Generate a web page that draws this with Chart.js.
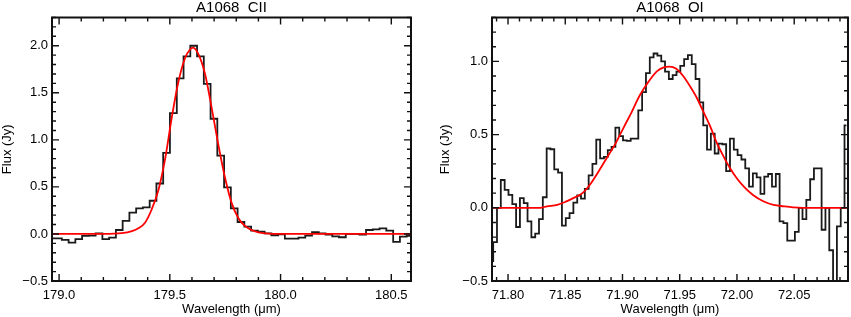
<!DOCTYPE html>
<html>
<head>
<meta charset="utf-8">
<title>A1068 CII / OI</title>
<script src="https://cdn.jsdelivr.net/npm/chart.js@4.4.1/dist/chart.umd.min.js"></script>
<style>
  html, body { margin: 0; padding: 0; background: #fff; }
  #wrap { position: relative; width: 851px; height: 317px; overflow: hidden; }
  canvas { position: absolute; top: 0; }
</style>
</head>
<body>
<div id="wrap">
  <canvas id="ciiChart" width="438" height="317" style="left:0px"></canvas>
  <canvas id="oiChart" width="413" height="317" style="left:438px"></canvas>
</div>
<script>
// ---- CII panel: binned spectrum (bin centres) ----
const ciiWave = [
  178.966, 178.997, 179.028, 179.058, 179.089, 179.119, 179.150, 179.180, 179.211, 179.241,
  179.272, 179.302, 179.333, 179.363, 179.394, 179.424, 179.455, 179.485, 179.516, 179.547,
  179.577, 179.608, 179.638, 179.669, 179.699, 179.730, 179.760, 179.791, 179.821, 179.852,
  179.882, 179.913, 179.943, 179.974, 180.004, 180.035, 180.066, 180.096, 180.127, 180.157,
  180.188, 180.218, 180.249, 180.279, 180.310, 180.340, 180.371, 180.401, 180.432, 180.462,
  180.493, 180.524, 180.554, 180.585
];
const ciiFlux = [
  -0.046, -0.046, -0.063, -0.092, -0.056, -0.021, -0.018, 0.007, -0.056, -0.039,
  0.042, 0.138, 0.226, 0.272, 0.283, 0.353, 0.536, 0.861, 1.284, 1.654,
  1.887, 2.000, 1.887, 1.594, 1.224, 0.832, 0.494, 0.272, 0.127, 0.078,
  0.035, 0.025, 0.007, -0.014, -0.004, -0.049, -0.049, -0.039, -0.018, 0.018,
  0.007, -0.007, -0.025, -0.035, 0.000, 0.000, -0.007, 0.042, 0.049, 0.060,
  0.035, -0.085, -0.028, -0.020
];
// CII fitted line (red)
const ciiFitWave = [
  178.968, 179.200, 179.283, 179.329, 179.358, 179.388, 179.418, 179.449, 179.479, 179.509,
  179.539, 179.569, 179.591, 179.605, 179.629, 179.659, 179.689, 179.719, 179.749, 179.779,
  179.809, 179.839, 179.870, 179.900, 179.930, 180.000, 180.589
];
const ciiFitFlux = [
  0.000, 0.000, 0.008, 0.030, 0.060, 0.120, 0.260, 0.470, 0.800, 1.240,
  1.620, 1.870, 1.960, 1.980, 1.910, 1.700, 1.340, 0.950, 0.600, 0.330,
  0.170, 0.085, 0.040, 0.018, 0.007, 0.000, 0.000
];
const ciiXTicks = [179.0, 179.5, 180.0, 180.5];
const ciiYTicks = [-0.5, 0.0, 0.5, 1.0, 1.5, 2.0];

// ---- OI panel ----
const oiWave = [
  71.7854, 71.7887, 71.7920, 71.7954, 71.7987, 71.8021, 71.8054, 71.8087, 71.8121, 71.8154,
  71.8187, 71.8221, 71.8254, 71.8287, 71.8321, 71.8354, 71.8387, 71.8421, 71.8454, 71.8488,
  71.8521, 71.8554, 71.8588, 71.8621, 71.8654, 71.8688, 71.8721, 71.8754, 71.8788, 71.8821,
  71.8855, 71.8888, 71.8921, 71.8955, 71.8988, 71.9021, 71.9055, 71.9088, 71.9121, 71.9155,
  71.9188, 71.9222, 71.9255, 71.9288, 71.9322, 71.9355, 71.9388, 71.9422, 71.9455, 71.9488,
  71.9522, 71.9555, 71.9588, 71.9622, 71.9655, 71.9689, 71.9722, 71.9755, 71.9789, 71.9822,
  71.9855, 71.9889, 71.9922, 71.9956, 71.9989, 72.0022, 72.0056, 72.0089, 72.0122, 72.0156,
  72.0189, 72.0222, 72.0256, 72.0289, 72.0323, 72.0356, 72.0389, 72.0423, 72.0456, 72.0489,
  72.0523, 72.0556, 72.0589, 72.0623, 72.0656, 72.0689, 72.0723, 72.0756, 72.0790, 72.0823,
  72.0856, 72.0890, 72.0923, 72.0956
];
const oiFlux = [
  -0.364, -0.235, 0.000, 0.190, 0.122, 0.088, 0.025, -0.131, 0.066, 0.032,
  -0.093, -0.201, -0.176, -0.077, 0.072, 0.405, 0.400, 0.262, 0.240, -0.122,
  -0.070, -0.036, 0.036, 0.084, 0.063, 0.129, 0.222, 0.300, 0.466, 0.337,
  0.348, 0.394, 0.416, 0.548, 0.490, 0.460, 0.457, 0.473, 0.473, 0.665,
  0.790, 0.920, 1.027, 1.054, 1.040, 1.000, 0.930, 0.880, 0.907, 0.930,
  0.970, 1.016, 1.043, 0.982, 0.880, 0.720, 0.563, 0.398, 0.507, 0.371,
  0.439, 0.434, 0.251, 0.473, 0.398, 0.360, 0.330, 0.269, 0.145, 0.235,
  0.208, 0.095, 0.213, 0.231, 0.145, 0.231, -0.093, -0.104, -0.224, -0.224,
  -0.165, 0.000, -0.077, 0.054, 0.195, 0.270, 0.270, -0.150, 0.000, -0.290,
  -0.600, -0.127, 0.000, 0.563
];
const oiFitWave = [
  71.786, 71.828, 71.834, 71.843, 71.850, 71.857, 71.865, 71.872, 71.879, 71.886,
  71.894, 71.901, 71.908, 71.915, 71.923, 71.930, 71.936, 71.941, 71.947, 71.953,
  71.959, 71.965, 71.971, 71.977, 71.982, 71.988, 71.994, 72.000, 72.006, 72.014,
  72.023, 72.032, 72.041, 72.049, 72.058, 72.097
];
const oiFitFlux = [
  0.000, 0.000, 0.010, 0.020, 0.040, 0.066, 0.100, 0.163, 0.247, 0.337,
  0.440, 0.548, 0.654, 0.767, 0.864, 0.932, 0.959, 0.965, 0.950, 0.900,
  0.830, 0.750, 0.650, 0.550, 0.450, 0.355, 0.270, 0.200, 0.145, 0.088,
  0.045, 0.020, 0.010, 0.003, 0.000, 0.000
];
const oiXTicks = [71.80, 71.85, 71.90, 71.95, 72.00, 72.05];
const oiYTicks = [-0.5, 0.0, 0.5, 1.0];

Chart.defaults.font.family = '"Liberation Sans", Arial, Helvetica, sans-serif';
Chart.defaults.color = '#000';

function eachStep(min, max, step, fn) {
  for (let k = Math.ceil(min / step - 1e-6); k * step <= max + 1e-9; k++) fn(k * step);
}

// IDL style box: ticks pointing inward on all four sides, minor + major
const idlBox = {
  id: 'idlBox',
  afterDatasetsDraw(chart, args, opts) {
    const { ctx, chartArea: a } = chart;
    const x = chart.scales.x, y = chart.scales.y;
    ctx.save();
    ctx.strokeStyle = '#111';
    ctx.lineWidth = 1.4;
    ctx.beginPath();
    const xMark = (v, len) => {
      const px = x.getPixelForValue(v);
      ctx.moveTo(px, a.bottom); ctx.lineTo(px, a.bottom - len);
      ctx.moveTo(px, a.top); ctx.lineTo(px, a.top + len);
    };
    const yMark = (v, len) => {
      const py = y.getPixelForValue(v);
      ctx.moveTo(a.left, py); ctx.lineTo(a.left + len, py);
      ctx.moveTo(a.right, py); ctx.lineTo(a.right - len, py);
    };
    eachStep(x.min, x.max, opts.xMinor, v => xMark(v, 4));
    x.ticks.forEach(t => xMark(t.value, 7));
    eachStep(y.min, y.max, opts.yMinor, v => yMark(v, 4));
    y.ticks.forEach(t => yMark(t.value, 7));
    ctx.stroke();
    ctx.lineWidth = 2;
    ctx.strokeRect(a.left, a.top, a.right - a.left, a.bottom - a.top);
    ctx.restore();
  }
};

const minus = v => (v < 0 ? '\u2212' : '') + Math.abs(v).toFixed(1);

function makePanel(id, p) {
  const toPts = (xs, ys) => xs.map((w, i) => ({ x: w, y: ys[i] }));
  return new Chart(document.getElementById(id), {
    type: 'line',
    data: {
      datasets: [
        {
          data: toPts(p.fitX, p.fitY),
          borderColor: '#ff0000',
          borderWidth: 1.8,
          pointRadius: 0,
          cubicInterpolationMode: 'monotone',
          clip: 0
        },
        {
          data: toPts(p.wave, p.flux),
          borderColor: '#1a1a1a',
          borderWidth: 1.8,
          pointRadius: 0,
          stepped: 'middle',
          clip: 0
        }
      ]
    },
    options: {
      responsive: false,
      animation: false,
      devicePixelRatio: 1,
      events: [],
      layout: { padding: { left: 0, right: p.padRight, top: 0, bottom: 0 } },
      plugins: {
        legend: { display: false },
        tooltip: { enabled: false },
        title: {
          display: true,
          text: p.title,
          fullSize: false,
          color: '#000',
          font: { size: 15, weight: 'normal', lineHeight: 1 },
          padding: { top: 0, bottom: 2.5 }
        },
        idlBox: { xMinor: p.xMinor, yMinor: 0.1 }
      },
      scales: {
        x: {
          type: 'linear',
          min: p.xMin, max: p.xMax,
          grid: { display: false, drawTicks: false },
          border: { display: false },
          afterBuildTicks: s => { s.ticks = p.xTicks.map(v => ({ value: v })); },
          afterFit: s => { s.height = 36; },
          ticks: {
            padding: 7, autoSkip: false, maxRotation: 0,
            font: { size: 13 },
            callback: v => v.toFixed(p.xDec)
          },
          title: {
            display: true, text: 'Wavelength (\u03bcm)',
            font: { size: 13 }, padding: { top: 0, bottom: 0 }
          }
        },
        y: {
          type: 'linear',
          min: -0.5, max: p.yMax,
          grid: { display: false, drawTicks: false },
          border: { display: false },
          afterBuildTicks: s => { s.ticks = p.yTicks.map(v => ({ value: v })); },
          afterFit: s => { s.width = p.yWidth; },
          ticks: { padding: 4, autoSkip: false, font: { size: 13 }, callback: minus },
          title: {
            display: true, text: 'Flux (Jy)',
            font: { size: 13 }, padding: { top: 0, bottom: 0 }
          }
        }
      }
    },
    plugins: [idlBox]
  });
}

makePanel('ciiChart', {
  title: 'A1068  CII',
  wave: ciiWave, flux: ciiFlux, fitX: ciiFitWave, fitY: ciiFitFlux,
  xMin: 178.968, xMax: 180.589, xTicks: ciiXTicks, xDec: 1, xMinor: 0.1,
  yMax: 2.3, yTicks: ciiYTicks, yWidth: 52, padRight: 27
});

makePanel('oiChart', {
  title: 'A1068  OI',
  wave: oiWave, flux: oiFlux, fitX: oiFitWave, fitY: oiFitFlux,
  xMin: 71.786, xMax: 72.097, xTicks: oiXTicks, xDec: 2, xMinor: 0.01,
  yMax: 1.3, yTicks: oiYTicks, yWidth: 54, padRight: 3
});
</script>
</body>
</html>
